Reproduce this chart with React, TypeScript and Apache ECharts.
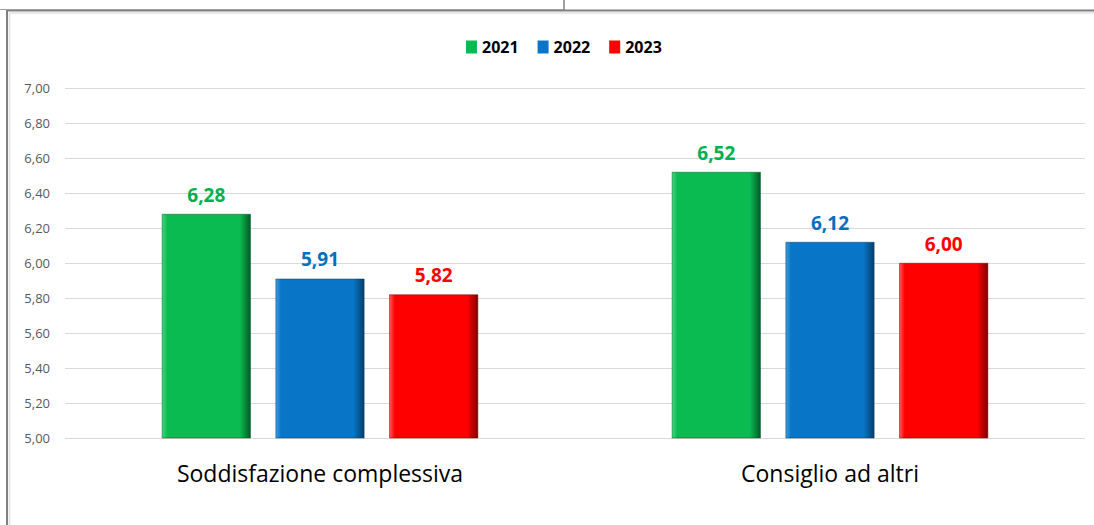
import React, { useEffect, useRef } from "react";
import * as echarts from "echarts";

const categories = ["Soddisfazione complessiva", "Consiglio ad altri"];
const seriesNames = ["2021", "2022", "2023"];
const values2021 = [6.28, 6.52];
const values2022 = [5.91, 6.12];
const values2023 = [5.82, 6.0];
const baseColors = ["#0ABB52", "#0875C6", "#FF0000"];
const lightColors = ["#3FD67C", "#3E9BE0", "#FF5A5A"];
const darkColors = ["#045A27", "#053E6B", "#7A0000"];
const labelColors = ["#00B050", "#0070C0", "#FF0000"];

const fmt = (v: number) => v.toFixed(2).replace(".", ",");

export default function App() {
  const ref = useRef<HTMLDivElement>(null);
  useEffect(() => {
    if (!ref.current) return;
    const chart = echarts.init(ref.current, undefined, { renderer: "svg" });
    const data = [values2021, values2022, values2023];
    const grad = (i: number) =>
      new echarts.graphic.LinearGradient(0, 0, 1, 0, [
        { offset: 0, color: lightColors[i] },
        { offset: 0.06, color: baseColors[i] },
        { offset: 0.88, color: baseColors[i] },
        { offset: 1, color: darkColors[i] },
      ]);
    chart.setOption({
      animation: false,
      backgroundColor: "#ffffff",
      legend: {
        top: 34,
        left: 461,
        itemWidth: 11,
        itemHeight: 13,
        itemGap: 19,
        icon: "rect",
        textStyle: { fontFamily: "Open Sans", fontWeight: "bold", fontSize: 16, color: "#000" },
        data: seriesNames.map((n, i) => ({ name: n, itemStyle: { color: baseColors[i], borderWidth: 0 } })),
      },
      grid: { left: 65, right: 9, top: 88, bottom: 87, containLabel: false },
      xAxis: {
        type: "category",
        data: categories,
        axisLine: { show: false },
        axisTick: { show: false },
        axisLabel: { margin: 23, fontSize: 23, fontFamily: "Open Sans", color: "#000" },
      },
      yAxis: {
        type: "value",
        min: 5,
        max: 7,
        interval: 0.2,
        axisLine: { show: false },
        axisTick: { show: false },
        axisLabel: {
          margin: 15,
          fontSize: 13,
          fontFamily: "Open Sans",
          color: "#595959",
          formatter: (v: number) => fmt(v),
        },
        splitLine: { lineStyle: { color: "#D9D9D9", width: 1 } },
      },
      series: seriesNames.map((name, i) => ({
        name,
        type: "bar",
        data: data[i],
        barGap: "28%",
        barCategoryGap: "38%",
        itemStyle: { color: grad(i), borderColor: darkColors[i], borderWidth: 0.5 },
        label: {
          show: true,
          position: "top",
          distance: 10,
          formatter: (p: any) => fmt(p.value),
          color: labelColors[i],
          fontFamily: "Open Sans",
          fontWeight: "bold",
          fontSize: 19,
        },
      })),
      graphic: [
        { type: "line", shape: { x1: 7, y1: 10.5, x2: 1094, y2: 10.5 }, style: { stroke: "#808080", lineWidth: 2 } },
        { type: "line", shape: { x1: 9, y1: 13, x2: 1094, y2: 13 }, style: { stroke: "#E0E0E0", lineWidth: 1.5 } },
        { type: "line", shape: { x1: 7, y1: 10, x2: 7, y2: 525 }, style: { stroke: "#808080", lineWidth: 2 } },
        { type: "line", shape: { x1: 9.5, y1: 13, x2: 9.5, y2: 525 }, style: { stroke: "#E0E0E0", lineWidth: 1.5 } },
        { type: "line", shape: { x1: 564, y1: 0, x2: 564, y2: 10 }, style: { stroke: "#808080", lineWidth: 1.5 } },
        { type: "line", shape: { x1: 0, y1: 9.5, x2: 563, y2: 9.5 }, style: { stroke: "#A0A0A0", lineWidth: 1 } },
      ],
    });
    return () => chart.dispose();
  }, []);
  return <div ref={ref} style={{ position: "fixed", left: 0, top: 0, width: 1094, height: 525 }} />;
}
